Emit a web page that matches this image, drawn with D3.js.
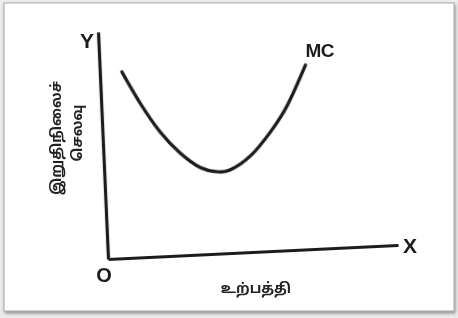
<!DOCTYPE html>
<html>
<head>
<meta charset="utf-8">
<script src="https://cdn.jsdelivr.net/npm/d3@7"></script>
<style>
  html, body { margin: 0; padding: 0; background: #ececec; }
  svg { display: block; }
  .lbl { font-family: 'Liberation Sans', Arial, sans-serif; font-weight: bold; fill: #1e1e1e; }
  .tam { font-family: 'Noto Sans', 'Noto Sans Tamil', sans-serif; font-weight: bold; fill: #222; }
  .axis path { stroke: #1e1e1e; stroke-width: 3.2; }
</style>
</head>
<body>
<script>
/* MC curve: output vs marginal cost (0-10 units) */
const output = [0.76, 1.34, 1.99, 2.64, 3.31, 3.89, 4.34, 5.05, 5.78, 6.41, 7.09]
const cost = [8.2, 6.79, 5.47, 4.51, 3.83, 3.6, 3.66, 4.22, 5.24, 6.39, 8.11]

/* labels */
const curveLabel = 'MC'
const yLabelLines = ['இறுதிநிலைச்', 'செலவு']
const xLabel = 'உற்பத்தி'

const W = 458
const H = 318

const svg = d3.select('body').append('svg')
  .attr('width', W)
  .attr('height', H)

const defs = svg.append('defs')
const shadow = defs.append('filter').attr('id', 'shadow')
  .attr('x', '-5%').attr('y', '-5%').attr('width', '110%').attr('height', '115%')
shadow.append('feDropShadow')
  .attr('dx', 1).attr('dy', 2).attr('stdDeviation', 1.5)
  .attr('flood-color', '#555').attr('flood-opacity', 0.6)
const soft = defs.append('filter').attr('id', 'soft')
soft.append('feGaussianBlur').attr('stdDeviation', 0.45)

/* white card */
svg.append('rect')
  .attr('x', 4).attr('y', 3)
  .attr('width', 450).attr('height', 308)
  .attr('fill', '#fff')
  .attr('stroke', '#a8a8a8')
  .attr('stroke-width', 1)
  .attr('filter', 'url(#shadow)')

/* scales in plot units; the scan is slightly skewed so the plot group
   gets a small shear matrix */
const x = d3.scaleLinear().domain([0, 10]).range([0, 290])
const y = d3.scaleLinear().domain([0, 10]).range([0, -227])

const plot = svg.append('g')
  .attr('transform', 'matrix(1,-0.0483,0.044,1,108,259)')
  .attr('filter', 'url(#soft)')

/* axes: only the domain lines, no ticks */
plot.append('g').attr('class', 'axis')
  .call(d3.axisBottom(x).ticks(0).tickSizeOuter(0))
plot.append('g').attr('class', 'axis')
  .call(d3.axisLeft(y).ticks(0).tickSizeOuter(0))

/* MC curve */
const pts = output.map((d, i) => [d, cost[i]])
plot.append('path')
  .datum(pts)
  .attr('fill', 'none')
  .attr('stroke', '#1e1e1e')
  .attr('stroke-width', 3.3)
  .attr('stroke-linecap', 'round')
  .attr('d', d3.line()
    .x((d) => x(d[0]))
    .y((d) => y(d[1]))
    .curve(d3.curveNatural))

/* letters */
const letters = svg.append('g').attr('filter', 'url(#soft)')
const addLbl = (tx, ty, t, size) => letters.append('text')
  .attr('class', 'lbl')
  .attr('x', tx).attr('y', ty)
  .attr('text-anchor', 'middle')
  .attr('dominant-baseline', 'central')
  .style('font-size', size + 'px')
  .text(t)

addLbl(87, 40, 'Y', 21)
addLbl(410, 245, 'X', 21)
addLbl(104, 275, 'O', 20)
addLbl(320, 50, curveLabel, 19).attr('textLength', 29)

/* tamil axis titles */
yLabelLines.forEach(function (t, i) {
  letters.append('text')
    .attr('class', 'tam')
    .attr('transform', `translate(${55 + i * 21}, ${i ? 133 : 138}) rotate(-90)`)
    .attr('text-anchor', 'middle')
    .attr('dominant-baseline', 'central')
    .style('font-size', '14px')
    .text(t)
})

letters.append('text')
  .attr('class', 'tam')
  .attr('x', 256).attr('y', 287)
  .attr('text-anchor', 'middle')
  .attr('dominant-baseline', 'central')
  .style('font-size', '14px')
  .text(xLabel)
</script>
</body>
</html>
